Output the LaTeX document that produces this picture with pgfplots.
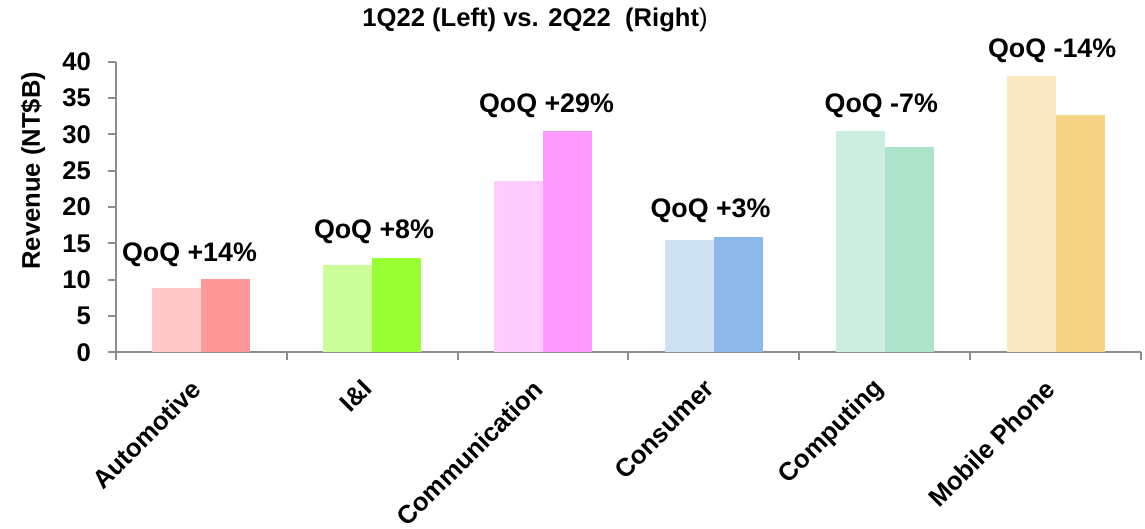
\documentclass[border=0pt]{standalone}
\usepackage{fontspec}
\setmainfont{Liberation Sans}
\usepackage{pgfplots}
\pgfplotsset{compat=1.18}

% 1Q22 (light) / 2Q22 (dark) per segment
\definecolor{autoL}{HTML}{FFC9C9}
\definecolor{autoR}{HTML}{FF9999}
\definecolor{iiL}{HTML}{CCFF99}
\definecolor{iiR}{HTML}{99FF33}
\definecolor{comL}{HTML}{FFCCFF}
\definecolor{comR}{HTML}{FF99FF}
\definecolor{conL}{HTML}{CFE2F3}
\definecolor{conR}{HTML}{8DB9E8}
\definecolor{cmpL}{HTML}{CCEEDF}
\definecolor{cmpR}{HTML}{ABE3CB}
\definecolor{mobL}{HTML}{FAE8C3}
\definecolor{mobR}{HTML}{F5D584}
\definecolor{axgray}{HTML}{8C8C8C}

\newcommand{\lbl}{\bfseries\fontsize{12.8}{14}\selectfont}
\newcommand{\qlbl}{\bfseries\fontsize{13.4}{15}\selectfont}

\begin{document}
\begin{tikzpicture}
\path[use as bounding box] (-58pt,-88.25pt) rectangle (514.5pt,176.25pt);
\begin{axis}[
    scale only axis,
    width=512.5pt,
    height=145.4pt,
    xmin=-0.5, xmax=5.5,
    ymin=0, ymax=40,
    clip=false,
    axis x line*=bottom,
    axis y line*=left,
    axis line style={-, draw=axgray, line width=1pt},
    xtick={0,...,5},
    xticklabels={Automotive,I\&I,Communication,Consumer,Computing,Mobile Phone},
    minor xtick={-0.5,0.5,...,5.5},
    ytick={0,5,...,40},
    tick align=outside,
    major tick length=4pt,
    minor tick length=4pt,
    tick style={axgray, line width=1pt},
    major x tick style={draw=none},
    /pgf/number format/assume math mode=true,
    yticklabel style={font=\lbl, xshift=-5pt},
    xticklabel style={font=\lbl, rotate=45, anchor=east},
    xticklabel shift=9.5pt,
    ylabel={Revenue (NT\$B)},
    ylabel style={font=\lbl, at={(axis description cs:0,0.625)}, anchor=center, yshift=41.5pt},
]
\addplot[ybar, bar width=24.5pt, bar shift=-12.25pt, fill=autoL, draw=none] coordinates {(0,8.9)};
\addplot[ybar, bar width=24.5pt, bar shift=12.25pt, fill=autoR, draw=none] coordinates {(0,10.1)};
\addplot[ybar, bar width=24.5pt, bar shift=-12.25pt, fill=iiL, draw=none] coordinates {(1,12.0)};
\addplot[ybar, bar width=24.5pt, bar shift=12.25pt, fill=iiR, draw=none] coordinates {(1,13.0)};
\addplot[ybar, bar width=24.5pt, bar shift=-12.25pt, fill=comL, draw=none] coordinates {(2,23.6)};
\addplot[ybar, bar width=24.5pt, bar shift=12.25pt, fill=comR, draw=none] coordinates {(2,30.5)};
\addplot[ybar, bar width=24.5pt, bar shift=-12.25pt, fill=conL, draw=none] coordinates {(3,15.45)};
\addplot[ybar, bar width=24.5pt, bar shift=12.25pt, fill=conR, draw=none] coordinates {(3,15.9)};
\addplot[ybar, bar width=24.5pt, bar shift=-12.25pt, fill=cmpL, draw=none] coordinates {(4,30.4)};
\addplot[ybar, bar width=24.5pt, bar shift=12.25pt, fill=cmpR, draw=none] coordinates {(4,28.3)};
\addplot[ybar, bar width=24.5pt, bar shift=-12.25pt, fill=mobL, draw=none] coordinates {(5,38.0)};
\addplot[ybar, bar width=24.5pt, bar shift=12.25pt, fill=mobR, draw=none] coordinates {(5,32.6)};

\node[font=\qlbl] at (axis cs:-0.07,13.5) {QoQ +14\%};
\node[font=\qlbl] at (axis cs:1.01,16.55) {QoQ +8\%};
\node[font=\qlbl] at (axis cs:2.02,33.9) {QoQ +29\%};
\node[font=\qlbl] at (axis cs:2.98,19.45) {QoQ +3\%};
\node[font=\qlbl] at (axis cs:3.98,33.9) {QoQ -7\%};
\node[font=\qlbl] at (axis cs:4.98,41.5) {QoQ -14\%};
\node[font=\lbl] at (axis cs:1.953,45.7) {1Q22 (Left) vs. 2Q22~~(Right\mdseries)};
\end{axis}
\end{tikzpicture}
\end{document}
